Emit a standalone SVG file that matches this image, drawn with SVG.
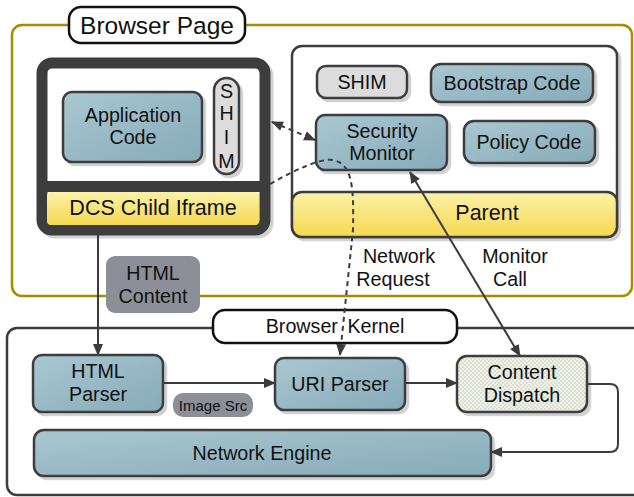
<svg xmlns="http://www.w3.org/2000/svg" width="634" height="497" viewBox="0 0 634 497">
  <defs>
    <linearGradient id="teal" x1="0" y1="0" x2="1" y2="1">
      <stop offset="0" stop-color="#a9c7d1"/>
      <stop offset="1" stop-color="#86abb9"/>
    </linearGradient>
    <linearGradient id="yellow" x1="0" y1="0" x2="0" y2="1">
      <stop offset="0" stop-color="#fdf1a8"/>
      <stop offset="1" stop-color="#f6d850"/>
    </linearGradient>
    <pattern id="dots" width="4" height="4" patternUnits="userSpaceOnUse">
      <rect width="4" height="4" fill="#f0f2ea"/>
      <circle cx="1" cy="1" r="0.75" fill="#bcc4b0"/>
      <circle cx="3" cy="3" r="0.75" fill="#bcc4b0"/>
    </pattern>
    <filter id="shadow" x="-10%" y="-10%" width="130%" height="140%">
      <feOffset in="SourceAlpha" dx="3" dy="3" result="o"/>
      <feComponentTransfer in="o" result="s"><feFuncA type="linear" slope="0.18"/></feComponentTransfer>
      <feMerge><feMergeNode in="s"/><feMergeNode in="SourceGraphic"/></feMerge>
    </filter>
    <marker id="arrow" viewBox="0 0 12 10" refX="11" refY="5" markerWidth="12" markerHeight="10" markerUnits="userSpaceOnUse" orient="auto-start-reverse">
      <path d="M0,0 L12,5 L0,10 Z" fill="#3c3c3c"/>
    </marker>
  </defs>
  <style>
    text { font-family: "Liberation Sans", Arial, sans-serif; fill: #111; text-anchor: middle; dominant-baseline: central; }
    .t17 { font-size: 19.7px; }
    .band-t { font-size: 21.5px; }
    .t22 { font-size: 24.5px; }
    .t13 { font-size: 15px; }
    .node { fill: url(#teal); stroke: #3c3c3c; stroke-width: 2.5; filter: url(#shadow); }
    .band { fill: url(#yellow); stroke: #3c3c3c; stroke-width: 2.5; }
    .shim { fill: #dcdcdc; stroke: #3c3c3c; stroke-width: 2.5; filter: url(#shadow); }
    .tag { fill: #8d8f98; }
    .title { fill: #fff; stroke: #111; stroke-width: 2.5; }
    .wire { fill: none; stroke: #3c3c3c; stroke-width: 2; }
    .dash { fill: none; stroke: #3c3c3c; stroke-width: 2; stroke-dasharray: 5 4; }
  </style>

  <!-- Browser Page frame -->
  <g id="browser-page">
    <rect x="12" y="25" width="620" height="271" rx="10" fill="none" stroke="#a68d00" stroke-width="2.5"/>
    <rect x="69" y="7" width="176" height="36" rx="12" class="title"/>
    <text x="157" y="25" class="t22">Browser Page</text>
  </g>

  <!-- Browser Kernel frame -->
  <g id="browser-kernel">
    <rect x="7" y="328" width="640" height="167" rx="10" fill="none" stroke="#3c3c3c" stroke-width="2.5"/>
    <rect x="213" y="310" width="244" height="33" rx="12" class="title"/>
    <text x="335" y="326" class="t17" word-spacing="4">Browser Kernel</text>
  </g>

  <!-- DCS child iframe -->
  <g id="dcs-iframe">
    <rect x="42" y="63" width="223" height="167" rx="10" fill="#fff" stroke="#3c3c3c" stroke-width="11" filter="url(#shadow)"/>
    <rect x="47" y="181" width="213" height="11" fill="#3c3c3c"/>
    <rect x="47" y="192" width="212" height="33" rx="4" fill="url(#yellow)"/>
    <text x="153" y="208" class="band-t">DCS Child Iframe</text>
  </g>

  <g id="application-code">
    <rect x="63" y="92" width="139" height="70" rx="9" class="node"/>
    <text x="133" y="115" class="t17">Application</text>
    <text x="133" y="137" class="t17">Code</text>
  </g>

  <g id="iframe-shim">
    <rect x="214" y="78" width="25" height="96" rx="12.5" class="shim"/>
    <text x="226.5" y="91" class="t17">S</text>
    <text x="226.5" y="113" class="t17">H</text>
    <text x="226.5" y="137" class="t17">I</text>
    <text x="226.5" y="161" class="t17">M</text>
  </g>

  <!-- Parent page panel -->
  <g id="parent">
    <rect x="292" y="46" width="325" height="191" rx="10" fill="#fff" stroke="#3c3c3c" stroke-width="2.5" filter="url(#shadow)"/>
    <rect x="292" y="192" width="325" height="45" rx="10" class="band"/>
    <text x="487" y="213" class="band-t">Parent</text>
  </g>

  <g id="parent-shim">
    <rect x="317" y="66" width="90" height="32" rx="9" class="shim"/>
    <text x="362" y="82" class="t17">SHIM</text>
  </g>

  <g id="bootstrap-code">
    <rect x="431" y="64" width="162" height="38" rx="10" class="node"/>
    <text x="512" y="83" class="t17">Bootstrap Code</text>
  </g>

  <g id="security-monitor">
    <rect x="316" y="115" width="131" height="55" rx="9" class="node"/>
    <text x="382" y="131" class="t17">Security</text>
    <text x="382" y="153" class="t17">Monitor</text>
  </g>

  <g id="policy-code">
    <rect x="464" y="121" width="131" height="42" rx="10" class="node"/>
    <text x="529" y="142" class="t17">Policy Code</text>
  </g>

  <!-- Kernel components -->
  <g id="html-parser">
    <rect x="33" y="355" width="130" height="57" rx="9" class="node"/>
    <text x="98" y="371" class="t17">HTML</text>
    <text x="98" y="394" class="t17">Parser</text>
  </g>

  <g id="uri-parser">
    <rect x="275" y="358" width="130" height="52" rx="9" class="node"/>
    <text x="340" y="384" class="t17">URI Parser</text>
  </g>

  <g id="content-dispatch">
    <rect x="457" y="356" width="130" height="56" rx="10" fill="url(#dots)" stroke="#3c3c3c" stroke-width="2.5" filter="url(#shadow)"/>
    <text x="522" y="372" class="t17">Content</text>
    <text x="522" y="395" class="t17">Dispatch</text>
  </g>

  <g id="network-engine">
    <rect x="34" y="430" width="457" height="46" rx="10" class="node"/>
    <text x="262" y="453" class="t17">Network Engine</text>
  </g>

  <!-- Connectors -->
  <g id="connectors">
    <path d="M272,122 L315,140" class="dash" marker-start="url(#arrow)" marker-end="url(#arrow)"/>
    <path d="M270,184 C295,170 320,158 333,160 C352,164 354,185 353,230 L340,355" class="dash" marker-end="url(#arrow)"/>
    <path d="M410,172 L520,356" class="wire" marker-start="url(#arrow)" marker-end="url(#arrow)"/>
    <path d="M98,235 L98,355" class="wire" marker-end="url(#arrow)"/>
    <path d="M163,383 L275,383" class="wire" marker-end="url(#arrow)"/>
    <path d="M405,383 L457,383" class="wire" marker-end="url(#arrow)"/>
    <path d="M587,384 L610,384 Q618,384 618,392 L618,444 Q618,452 610,452 L491,452" class="wire" marker-end="url(#arrow)"/>
  </g>

  <!-- Connector labels -->
  <g id="labels">
    <rect x="106" y="256" width="94" height="57" rx="9" class="tag"/>
    <text x="153" y="273" class="t17">HTML</text>
    <text x="153" y="296" class="t17">Content</text>
    <rect x="173" y="393" width="80" height="24" rx="10" class="tag"/>
    <text x="213" y="405" class="t13">Image Src</text>
    <text x="399" y="256" class="t17">Network</text>
    <text x="393" y="279" class="t17">Request</text>
    <text x="515" y="256" class="t17">Monitor</text>
    <text x="510" y="279" class="t17">Call</text>
  </g>
</svg>
